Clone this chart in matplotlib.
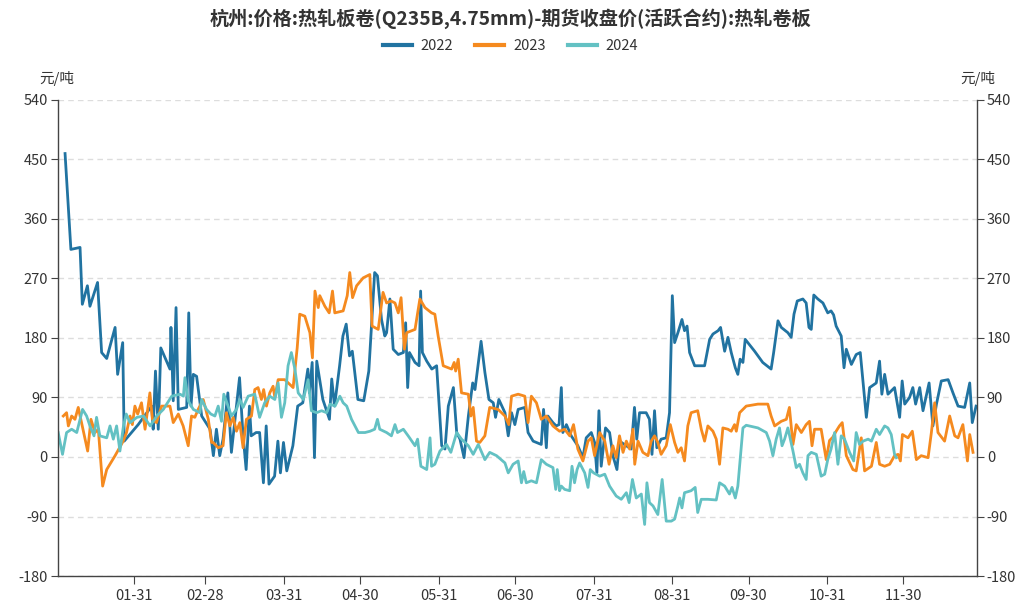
import matplotlib
matplotlib.use("Agg")
import matplotlib.pyplot as plt
from matplotlib.lines import Line2D

plt.rcParams['font.family'] = ['Noto Sans CJK SC', 'DejaVu Sans']
plt.rcParams['axes.unicode_minus'] = False

title = "杭州:价格:热轧板卷(Q235B,4.75mm)-期货收盘价(活跃合约):热轧卷板"
unit = "元/吨"
series_names = ["2022", "2023", "2024"]
colors = ["#2173a1", "#f58a1f", "#63c1c3"]

tick_days = [31, 59, 90, 120, 151, 181, 212, 243, 273, 304, 334]
tick_labels = ["01-31", "02-28", "03-31", "04-30", "05-31", "06-30",
               "07-31", "08-31", "09-30", "10-31", "11-30"]
y_ticks = [-180, -90, 0, 90, 180, 270, 360, 450, 540]

# day of year / value
x2022 = [3.9, 6.2, 9.8, 10.7, 12.7, 13.7, 16.7, 18.3, 20.3, 23.6, 24.6, 26.6, 27.2,
         32.7, 38.0, 38.6, 39.5, 40.6, 41.6, 45.2, 45.6, 46.5, 47.6, 48.5, 51.8, 52.6,
         53.5, 54.4, 55.7, 57.7, 61.0, 62.3, 63.5, 64.8, 66.1, 68.0, 69.4, 72.6, 73.9,
         75.2, 76.5, 77.2, 79.1, 80.5, 82.0, 83.1, 84.2, 86.4, 87.7, 88.7, 89.9, 91.2,
         93.6, 95.5, 97.5, 99.5, 100.1, 101.2, 102.1, 103.0, 105.4, 108.0, 108.9, 110.0,
         112.0, 113.3, 114.6, 115.9, 117.0, 119.2, 121.5, 123.5, 125.8, 126.9, 128.5,
         129.8, 130.5, 131.8, 133.1, 135.1, 137.1, 138.0, 138.8, 139.5, 141.7, 143.3,
         143.9, 144.6, 146.3, 148.3, 150.2, 152.2, 153.5, 154.8, 156.8, 158.1, 159.4,
         161.0, 162.7, 164.4, 165.3, 167.7, 169.2, 170.8, 172.5, 173.4, 174.7, 177.1,
         178.4, 179.7, 181.0, 182.3, 184.9, 186.2, 188.2, 191.4, 192.3, 193.4, 194.0,
         196.0, 197.3, 198.4, 199.3, 199.9, 201.3, 203.2, 205.8, 207.8, 209.1, 211.1,
         212.4, 213.3, 214.1, 215.0, 216.7, 218.3, 219.6, 221.2, 222.2, 224.9, 226.8,
         228.1, 229.0, 230.1, 232.7, 234.0, 235.0, 236.0, 236.9, 238.6, 240.6, 241.9,
         243.0, 243.9, 245.2, 246.8, 247.8, 248.8, 249.8, 251.8, 255.7, 257.7, 259.0,
         261.0, 262.0, 263.6, 264.9, 266.2, 267.8, 268.8, 269.7, 270.8, 271.7, 275.4,
         278.6, 281.9, 282.9, 284.6, 285.9, 288.5, 289.8, 290.9, 292.2, 294.4, 295.7,
         296.8, 297.7, 298.7, 300.3, 302.3, 304.2, 305.5, 306.5, 307.5, 309.5, 310.6,
         311.5, 313.5, 315.4, 317.0, 319.4, 320.7, 323.3, 324.6, 325.5, 326.6, 327.9,
         330.5, 332.5, 333.5, 334.5, 336.4, 337.7, 338.8, 340.4, 341.7, 344.1, 345.6,
         347.0, 348.9, 351.6, 353.5, 355.5, 358.1, 360.1, 361.1, 362.6]
v2022 = [459, 314, 317, 231, 259, 228, 264, 158, 149, 196, 125, 173, 24,
         49, 77, 42, 130, 42, 165, 133, 196, 85, 226, 72, 75, 218,
         77, 125, 122, 62, 42, 2, 42, 2, 27, 97, 7, 120, 37,
         -19, 77, 32, 37, 37, -39, 47, -41, -29, 24, -24, 22, -21,
         17, 77, 82, 133, 97, 143, -1, 145, 87, 57, 118, 77,
         138, 183, 201, 153, 160, 87, 85, 130, 279, 274, 208,
         183, 188, 239, 163, 155, 158, 203, 105, 158, 143, 138,
         251, 158, 145, 133, 138, 17, 12, 77, 105, 37, 27,
         -1, 62, 112, 102, 175, 128, 87, 82, 60, 87, 67,
         32, 67, 49, 72, 75, 37, 24, 19, 72, 14, 62,
         52, 47, 49, 105, 37, 49, 32, 17, -1, 29, 37,
         22, -24, 70, -14, 44, 37, 2, -19, 24, 17, 12,
         75, 27, 67, 67, 57, 4, 70, 14, 27, 29, 67,
         244, 173, 188, 208, 191, 198, 158, 138, 138, 178, 186,
         191, 196, 160, 181, 158, 135, 125, 148, 143, 178, 160,
         143, 133, 158, 206, 196, 188, 181, 216, 236, 239, 233,
         196, 193, 245, 239, 233, 218, 221, 215, 198, 183, 135,
         163, 140, 155, 158, 60, 105, 112, 145, 95, 125, 95,
         105, 60, 115, 80, 90, 105, 80, 105, 70, 112, 47,
         80, 115, 117, 97, 77, 75, 112, 52, 77]

x2023 = [3.2, 4.5, 5.2, 6.5, 7.8, 9.1, 10.4, 12.8, 14.1, 15.7, 17.0, 18.7, 20.3, 23.6,
         26.8, 28.1, 29.5, 30.4, 31.4, 32.5, 34.0, 35.4, 37.3, 38.3, 39.9, 41.9, 45.2,
         46.5, 48.5, 50.4, 52.4, 53.7, 55.0, 56.3, 58.3, 60.3, 61.6, 62.2, 64.2, 66.1,
         67.4, 68.8, 70.1, 71.4, 72.7, 74.0, 75.3, 77.3, 78.6, 79.9, 81.2, 82.1, 83.2,
         84.5, 85.8, 86.5, 87.8, 90.4, 93.7, 95.3, 96.3, 98.3, 100.3, 101.3, 102.3,
         103.6, 104.2, 106.2, 107.9, 109.2, 110.1, 113.4, 115.0, 116.0, 117.1, 118.7,
         121.3, 123.9, 124.8, 127.2, 129.1, 130.5, 132.2, 133.8, 135.1, 136.2, 137.5,
         138.4, 141.7, 143.6, 145.6, 148.2, 149.5, 150.8, 152.8, 156.1, 157.1, 157.7,
         158.7, 160.0, 162.7, 163.7, 164.6, 165.9, 167.2, 169.2, 171.1, 174.4, 177.1,
         178.6, 179.7, 182.3, 184.9, 186.2, 187.5, 189.5, 191.4, 193.4, 196.0, 198.6,
         200.6, 202.6, 204.1, 205.8, 207.8, 209.8, 211.1, 212.4, 214.4, 216.4, 218.1,
         219.6, 220.9, 222.2, 223.6, 224.9, 226.2, 227.5, 228.2, 229.5, 231.4, 233.4,
         234.7, 236.0, 237.3, 238.6, 240.6, 242.2, 243.9, 245.2, 246.5, 247.8, 249.1,
         250.4, 253.0, 254.4, 255.7, 257.0, 259.0, 260.3, 261.6, 262.9, 264.9, 266.2,
         267.5, 268.2, 269.5, 272.1, 276.7, 280.6, 281.9, 283.3, 285.9, 287.9, 289.1,
         290.5, 291.8, 293.8, 295.7, 297.0, 298.0, 299.0, 301.6, 303.6, 304.9, 306.2,
         307.5, 308.8, 309.9, 311.5, 314.1, 315.4, 317.4, 318.7, 321.4, 323.3, 324.6,
         326.6, 328.6, 330.5, 331.9, 332.8, 333.6, 335.8, 337.5, 339.1, 341.0, 343.7,
         345.0, 346.3, 347.6, 350.2, 352.2, 354.2, 355.5, 357.4, 359.2, 360.1, 361.4]
v2023 = [62, 67, 47, 62, 57, 75, 52, 9, 57, 37, 42, -44, -19, 2,
         24, 37, 62, 49, 77, 65, 82, 42, 97, 57, 52, 77, 77,
         52, 65, 47, 17, 62, 60, 72, 87, 57, 22, 22, 14, 17,
         67, 47, 60, 39, 52, 14, 57, 62, 102, 105, 87, 102, 77,
         97, 107, 90, 117, 117, 105, 165, 216, 213, 188, 150, 251,
         226, 244, 228, 218, 251, 218, 221, 244, 279, 241, 259,
         271, 276, 198, 193, 249, 233, 236, 233, 218, 241, 163,
         188, 193, 239, 226, 218, 216, 183, 138, 133, 143, 130,
         148, 97, 95, 62, 75, 24, 22, 32, 75, 72, 62,
         49, 92, 95, 92, 52, 92, 82, 57, 62, 47, 39,
         42, 32, 49, 12, -6, 24, 29, 2, 37, 24, -11,
         17, -1, 32, 7, 24, 12, 42, -11, 24, 7, 2,
         24, 32, 22, 4, 17, 49, 22, 7, 14, -6, 47,
         67, 70, 42, 24, 47, 39, 27, -11, 44, 42, 39,
         49, 39, 67, 77, 80, 80, 62, 47, 54, 57, 75,
         19, 49, 37, 49, 54, 17, 42, 42, -4, 25, 30,
         39, 47, 52, 2, -19, -21, 29, -21, -14, 22, -11,
         -14, -11, 2, 4, -6, 34, 29, 39, -4, 2, -1,
         37, 82, 37, 24, 62, 32, 29, 49, -6, 34, 7]

x2024 = [1.2, 2.9, 4.5, 6.5, 8.5, 10.8, 12.4, 13.7, 15.3, 16.3, 17.6, 20.3, 21.6, 22.9,
         24.2, 25.5, 26.9, 28.0, 29.5, 32.2, 34.8, 37.4, 40.0, 42.6, 45.9, 49.2, 50.5,
         51.1, 52.4, 54.4, 57.0, 57.7, 59.6, 61.3, 62.9, 64.2, 65.5, 66.4, 68.1, 69.4,
         71.4, 72.7, 74.0, 76.0, 78.6, 80.5, 82.5, 84.5, 86.5, 87.8, 89.1, 90.4, 91.7,
         93.0, 94.4, 95.7, 97.7, 99.6, 100.9, 102.9, 104.9, 106.9, 108.2, 110.2, 112.1,
         113.4, 114.8, 116.7, 119.4, 122.0, 124.0, 125.8, 126.9, 127.8, 130.5, 132.4,
         133.8, 134.8, 137.1, 139.0, 141.7, 142.7, 144.0, 146.3, 147.6, 148.2, 149.5,
         151.5, 154.1, 155.8, 158.1, 160.0, 162.7, 164.6, 166.6, 169.2, 171.1, 173.8,
         177.1, 178.4, 180.3, 182.3, 183.6, 184.5, 185.5, 187.5, 189.5, 191.4, 193.4,
         196.0, 197.1, 197.7, 198.6, 199.3, 200.6, 202.6, 203.5, 204.5, 205.5, 206.5,
         208.5, 209.8, 210.7, 212.0, 214.4, 216.4, 218.3, 220.9, 222.9, 224.9, 226.0,
         227.3, 228.8, 230.8, 232.1, 233.0, 234.0, 235.4, 237.3, 239.0, 240.6, 242.6,
         243.9, 245.2, 245.9, 246.8, 247.8, 250.4, 252.0, 253.0, 254.4, 257.0, 260.3,
         261.6, 263.6, 265.5, 266.5, 267.8, 268.8, 270.8, 272.1, 276.7, 280.0, 281.3,
         282.6, 283.9, 285.2, 286.2, 287.2, 288.5, 290.5, 291.8, 293.1, 294.4, 295.7,
         296.4, 297.7, 299.7, 301.6, 303.0, 304.2, 305.5, 306.9, 308.2, 309.5, 310.8,
         312.8, 314.4, 315.4, 316.7, 318.1, 320.1, 321.4, 323.3, 324.6, 326.6, 327.9,
         329.2, 330.5, 331.2]
v2024 = [37, 4, 37, 42, 37, 72, 62, 47, 32, 60, 32, 29, 47, 27,
         47, 9, 47, 65, 52, 60, 62, 47, 62, 72, 92, 95, 92,
         120, 85, 72, 67, 87, 72, 65, 62, 77, 54, 95, 77, 62,
         72, 87, 75, 92, 95, 60, 82, 92, 87, 112, 60, 82, 138,
         158, 133, 97, 87, 117, 70, 67, 70, 67, 80, 77, 92,
         82, 77, 57, 37, 37, 39, 42, 57, 42, 37, 32,
         49, 37, 42, 32, 17, 27, -14, -19, 29, -14, -11,
         9, 19, 7, 37, 27, 17, 4, 19, -4, 7, 2,
         -9, -24, -11, -6, -39, -22, -39, -36, -39, -4, -11,
         -16, -49, -19, -51, -44, -49, -51, -14, -39, -19, -9,
         -24, -46, -19, -24, -29, -26, -44, -59, -64, -54, -69,
         -34, -62, -56, -102, -39, -69, -74, -87, -34, -97, -97,
         -94, -74, -62, -77, -54, -51, -46, -84, -64, -64, -65,
         -39, -44, -56, -46, -62, -44, 44, 48, 44, 37, 24,
         2, 27, 44, 17, 27, 44, 9, -16, -11, -24, -34,
         2, 7, 4, -29, -26, -4, 12, 37, -11, 32, 27,
         7, -6, 37, 19, 24, 27, 24, 42, 34, 47, 44,
         34, 4, -1]

xs = [x2022, x2023, x2024]
vs = [v2022, v2023, v2024]

fig = plt.figure(figsize=(10.21, 6.06), dpi=100)
ax = fig.add_axes([0.0565, 0.0495, 0.9005, 0.7855])

for x, v, c in zip(xs, vs, colors):
    ax.plot(x, v, color=c, lw=2.0, solid_joinstyle='round')

ax.set_xlim(1, 363)
ax.set_ylim(-180, 540)
ax.set_yticks(y_ticks)
ax.set_yticklabels([str(t) for t in y_ticks])
ax.set_xticks(tick_days)
ax.set_xticklabels(tick_labels)
ax.grid(axis='y', color='#dddddd', linestyle=(0, (4, 3)), lw=1.0)
ax.set_axisbelow(True)

for s in ['left', 'right', 'bottom']:
    ax.spines[s].set_color('#444444')
    ax.spines[s].set_linewidth(1.0)
ax.spines['top'].set_visible(False)

ax.tick_params(axis='y', which='both', left=True, right=True, labelleft=True,
               labelright=True, length=5, color='#444444', labelsize=10.5,
               labelcolor='#333333', pad=2, direction='out')
ax.tick_params(axis='x', length=6, color='#444444', labelsize=10.5,
               labelcolor='#333333', pad=3)

fig.text(0.5, 0.970, title, ha='center', va='center', fontsize=13.8,
         fontweight='bold', color='#333333')
fig.text(0.038, 0.871, unit, ha='left', va='center', fontsize=10.5, color='#333333')
fig.text(0.975, 0.871, unit, ha='right', va='center', fontsize=10.5, color='#333333')

handles = [Line2D([0], [0], color=c, lw=3) for c in colors]
fig.legend(handles, series_names, loc='center', bbox_to_anchor=(0.5, 0.924),
           ncol=3, frameon=False, fontsize=10.5, handlelength=2.0,
           columnspacing=1.5, handletextpad=0.6, labelcolor='#333333')

fig.savefig("out.png", dpi=100)
